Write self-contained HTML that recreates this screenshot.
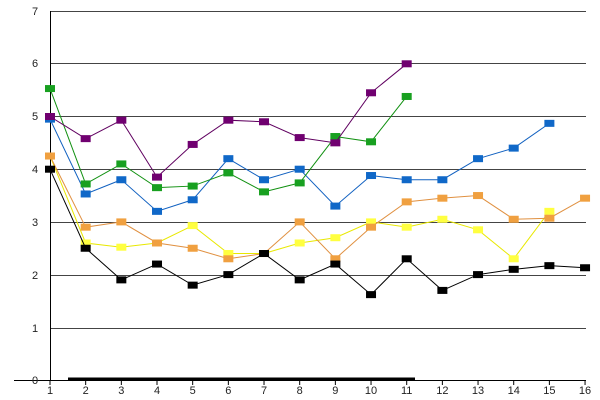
<!DOCTYPE html><html><head><style>body{margin:0;background:#fff}svg{display:block}text{font-family:"Liberation Sans",sans-serif;font-size:11px;fill:#222}</style></head><body>
<svg width="600" height="400" xmlns="http://www.w3.org/2000/svg" id="s">
<g stroke="#444" stroke-width="1">
<line x1="50" y1="11.5" x2="586" y2="11.5"/><line x1="50" y1="63.5" x2="586" y2="63.5"/><line x1="50" y1="116.5" x2="586" y2="116.5"/><line x1="50" y1="169.5" x2="586" y2="169.5"/><line x1="50" y1="222.5" x2="586" y2="222.5"/><line x1="50" y1="275.5" x2="586" y2="275.5"/><line x1="50" y1="328.5" x2="586" y2="328.5"/>
</g>
<g stroke="#000"><line x1="50.5" y1="11" x2="50.5" y2="381"/><line x1="14" y1="380.5" x2="586" y2="380.5"/></g>
<line x1="68" y1="379" x2="415" y2="379" stroke="#000" stroke-width="3"/>
<g id="t"></g>
<text x="32" y="15">7</text><text x="32" y="67">6</text><text x="32" y="120">5</text><text x="32" y="173">4</text><text x="32" y="226">3</text><text x="32" y="279">2</text><text x="32" y="332">1</text><text x="32" y="384">0</text>
</svg>
<script>
var s=document.getElementById('s'),ns='http://www.w3.org/2000/svg';
function X(i){return 50+(i-1)*35.67}function Y(v){return 380-v*52.7}
var t='';for(var i=1;i<=16;i++){var x=X(i);t+='<line x1="'+x+'" y1="380" x2="'+x+'" y2="385" stroke="#000"/><text x="'+x+'" y="394" text-anchor="middle">'+i+'</text>';}
document.getElementById('t').innerHTML=t;
var D=[
['#e8e800','#ffff40',[4.25,2.6,2.52,2.6,2.93,2.4,2.4,2.6,2.7,3.0,2.9,3.05,2.85,2.3,3.2]],
['#e09040','#f0a040',[4.25,2.9,3.0,2.6,2.5,2.3,2.4,3.0,2.3,2.9,3.38,3.45,3.5,3.05,3.07,3.45]],
['#1060c0','#1068c8',[4.95,3.53,3.8,3.2,3.42,4.2,3.8,4.0,3.3,3.88,3.8,3.8,4.2,4.4,4.87]],
['#109010','#18a020',[5.53,3.72,4.1,3.65,3.68,3.93,3.57,3.74,4.62,4.52,5.38]],
['#600060','#700070',[5.0,4.58,4.93,3.85,4.47,4.93,4.9,4.6,4.5,5.45,6.0]],
['#000','#000',[4.0,2.5,1.9,2.2,1.8,2.0,2.4,1.9,2.2,1.62,2.3,1.7,2.0,2.1,2.17,2.13]]];
var h='';D.forEach(function(d){var p=d[2].map(function(v,i){return X(i+1)+','+Y(v)}).join(' ');
h+='<polyline points="'+p+'" fill="none" stroke="'+d[0]+'" stroke-width="1"/>';
d[2].forEach(function(v,i){h+='<rect x="'+(X(i+1)-5)+'" y="'+(Y(v)-3.5)+'" width="10" height="7" fill="'+d[1]+'"/>'});});
s.insertAdjacentHTML('beforeend',h);
</script>
</body></html>
